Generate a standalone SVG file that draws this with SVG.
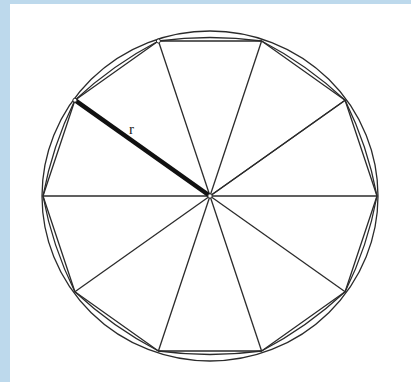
<svg xmlns="http://www.w3.org/2000/svg" width="411" height="382" viewBox="0 0 411 382">
<style>
.ln{fill:none;stroke:#2b2b2b;stroke-width:1.3;stroke-linejoin:round}
.pt{fill:#fff;stroke:#2b2b2b;stroke-width:1}
.lbl{font-family:"Liberation Serif","Times New Roman",serif;font-size:15px;fill:#222}
</style>
<rect x="0" y="0" width="411" height="382" fill="#fff"/>
<rect x="0" y="0" width="411" height="4" fill="#bdd9ec"/>
<rect x="0" y="0" width="10" height="382" fill="#bdd9ec"/>
<g id="circle">
<ellipse class="ln" cx="210" cy="196" rx="168" ry="165"/>
</g>
<g id="decagon">
<polygon class="ln" points="377,196 345.1,100.2 261.6,41 158.4,41 74.9,100.2 43,196 74.9,291.8 158.4,351 261.6,351 345.1,291.8"/>
<path class="ln" d="M377,196 Q367.7,145.9 345.1,100.2 Q307.5,64.9 261.6,41 Q210,34 158.4,41 Q112.5,64.9 74.9,100.2 Q52.3,145.9 43,196 Q52.3,246.1 74.9,291.8 Q112.5,327.1 158.4,351 Q210,358 261.6,351 Q307.5,327.1 345.1,291.8 Q367.7,246.1 377,196 Z"/>
</g>
<g id="spokes">
<line class="ln" x1="43" y1="196" x2="377" y2="196"/>
<line class="ln" x1="345.1" y1="100.2" x2="210" y2="196"/>
<line class="ln" x1="74.9" y1="291.8" x2="345.1" y2="100.2"/>
<line class="ln" x1="261.6" y1="41" x2="158.4" y2="351"/>
<line class="ln" x1="158.4" y1="41" x2="261.6" y2="351"/>
<line class="ln" x1="210" y1="196" x2="345.1" y2="291.8"/>
</g>
<g id="radius">
<line x1="74.9" y1="100.2" x2="210" y2="196" stroke="#111" stroke-width="4.5" stroke-linecap="butt"/>
<text class="lbl" x="129" y="134">r</text>
</g>
<g id="points">
<circle class="pt" cx="210" cy="196" r="2.2"/>
<circle class="pt" cx="74.9" cy="100.2" r="2"/>
<circle class="pt" cx="158.4" cy="41" r="2"/>
</g>
</svg>
